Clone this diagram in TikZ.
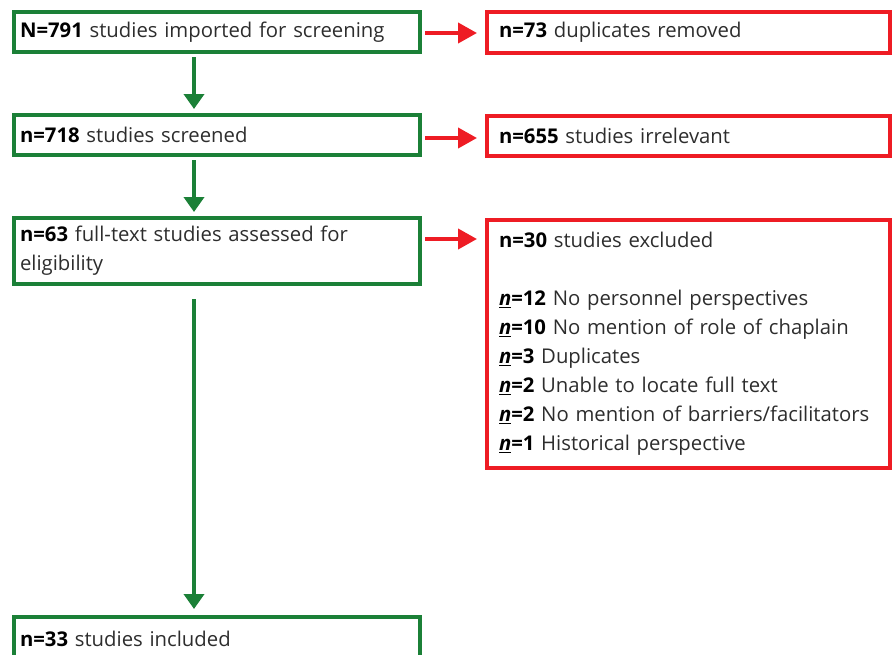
\documentclass[tikz,border=0pt]{standalone}
\usepackage{fontspec}
\setmainfont{Open Sans}
\usetikzlibrary{arrows.meta}
\definecolor{boxgreen}{RGB}{27,128,55}
\definecolor{boxred}{RGB}{238,28,36}
\definecolor{bodytext}{RGB}{45,45,45}
\newcommand{\nund}{\underline{\textbf{\textit{n}}}}

\begin{document}
\begin{tikzpicture}[x=1pt,y=-1pt,
  flowbox/.style={line width=4pt, anchor=north west, align=left, text=bodytext,
    font=\fontsize{20.3}{29}\selectfont},
  gbox/.style={flowbox, draw=boxgreen, minimum width=406pt, inner xsep=6pt, text width=394pt},
  rbox/.style={flowbox, draw=boxred, minimum width=403pt, inner xsep=12pt, text width=379pt},
  garrow/.style={draw=boxgreen, line width=4pt, -{Triangle[width=20pt,length=15pt]}},
  rarrow/.style={draw=boxred, line width=4pt, -{Triangle[width=20pt,length=19pt]}}]
\useasboundingbox (0,0) rectangle (892,654);
\node[gbox, minimum height=40pt] (g1) at (12,10) {\textcolor{black}{\textbf{N=791}} studies imported for screening};
\node[gbox, minimum height=40pt] (g2) at (12,113) {\textcolor{black}{\textbf{n=718}} studies screened};
\node[gbox, minimum height=66pt] (g3) at (12,216) {\textcolor{black}{\textbf{n=63}} full-text studies assessed for\\eligibility};
\node[gbox, minimum height=44pt] (g4) at (12,615) {\textcolor{black}{\textbf{n=33}} studies included};
\node[rbox, minimum height=41pt] (r1) at (485,10) {\textcolor{black}{\textbf{n=73}} duplicates removed};
\node[rbox, minimum height=40pt] (r2) at (485,114) {\textcolor{black}{\textbf{n=655}} studies irrelevant};
\node[rbox, minimum height=248pt] (r3) at (485,218) {\textcolor{black}{\textbf{n=30}} studies excluded\\[29pt]
  \textcolor{black}{\nund\textbf{=12}} No personnel perspectives\\
  \textcolor{black}{\nund\textbf{=10}} No mention of role of chaplain\\
  \textcolor{black}{\nund\textbf{=3}} Duplicates\\
  \textcolor{black}{\nund\textbf{=2}} Unable to locate full text\\
  \textcolor{black}{\nund\textbf{=2}} No mention of barriers/facilitators\\
  \textcolor{black}{\nund\textbf{=1}} Historical perspective};
\draw[garrow, shorten <=3pt, shorten >=4pt] ([xshift=182pt]g1.south west) -- ([xshift=182pt]g2.north west);
\draw[garrow, shorten <=3pt, shorten >=4pt] ([xshift=182pt]g2.south west) -- ([xshift=182pt]g3.north west);
\draw[garrow, shorten <=13pt, shorten >=6pt] ([xshift=182pt]g3.south west) -- ([xshift=182pt]g4.north west);
\coordinate (c1) at ([yshift=-1pt]g1.east);
\coordinate (c2) at ([yshift=-3pt]g2.east);
\coordinate (c3) at ([yshift=-23pt]g3.north east);
\draw[rarrow, shorten <=3pt, shorten >=8pt] (c1) -- (c1 -| r1.west);
\draw[rarrow, shorten <=3pt, shorten >=8pt] (c2) -- (c2 -| r2.west);
\draw[rarrow, shorten <=3pt, shorten >=8pt] (c3) -- (c3 -| r3.west);
\end{tikzpicture}
\end{document}
